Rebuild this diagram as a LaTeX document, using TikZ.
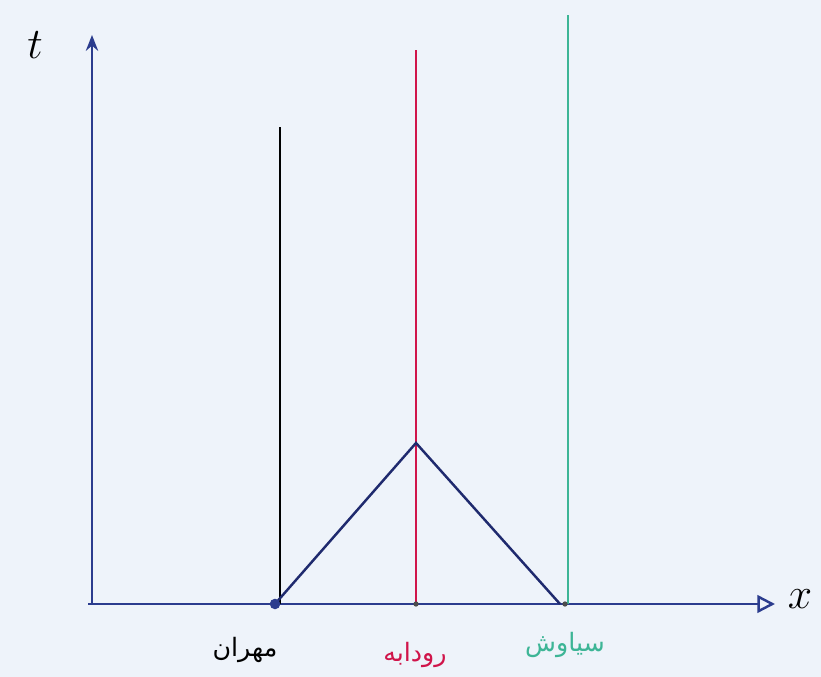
\documentclass[tikz,border=0pt]{standalone}
\usepackage{fontspec}
\newfontfamily\arabicfont[Script=Arabic]{DejaVu Sans}
\TeXXeTstate=1
\usetikzlibrary{arrows.meta}
\usetikzlibrary{positioning}
\definecolor{paper}{HTML}{EEF3FA}
\definecolor{axisblue}{HTML}{2B3C8E}
\definecolor{lightblue}{HTML}{1F2A6E}
\definecolor{rudared}{HTML}{D0144A}
\definecolor{siagreen}{HTML}{3DB596}
\tikzset{
    coordaxis/.style={draw=axisblue, line width=1.4pt},
    worldline/.style={line width=1.4pt},
    signal/.style={draw=lightblue, line width=1.4pt},
    persontext/.style={font=\arabicfont\Large}
}

\begin{document}
\begin{tikzpicture}
        % paper
        \fill[paper] (0,0) rectangle (16.42,13.54);
        \useasboundingbox (0,0) rectangle (16.42,13.54);

        % Axes
        \coordinate (O) at (1.84,1.46);
        \coordinate (xstart) at (1.76,1.46);
        \coordinate (xend) at (15.5,1.46);
        \coordinate (tend) at (1.84,12.84);
        \draw[coordaxis, -{Stealth[length=9pt,width=7pt]}] (O) -- (tend);
        \draw[coordaxis, -{Triangle[open,length=10pt,width=10pt]}] (xstart) -- (xend);
        \node (tlabel) at (0.7,12.64) {\Huge $t$};
        \node (xlabel) at (16.0,1.56) {\Huge $x$};

        % Events on the x axis
        \coordinate (mehran) at (5.5,1.46);
        \coordinate (rudabeh) at (8.32,1.46);
        \coordinate (siavash) at (11.2,1.46);
        \coordinate (meet) at (8.32,4.68);

        % World lines
        \draw[worldline, black] (5.6,1.46) -- (5.6,11.0);
        \draw[worldline, rudared] (rudabeh) -- (8.32,12.54);
        \draw[worldline, siagreen] (11.36,1.46) -- (11.36,13.24);

        % Light signals
        \draw[signal] (mehran) -- (meet) -- (siavash);
        \fill[axisblue] (mehran) circle (3pt);
        \fill[black!70] (rudabeh) circle (1.5pt);
        \fill[black!70] (11.3,1.46) circle (1.5pt);

        % Names
        \node (mehran_text) [persontext, black] at (4.9,0.54) {\beginR مهران\endR};
        \node (rudabeh_text) [persontext, rudared] at (8.3,0.44) {\beginR رودابه\endR};
        \node (siavash_text) [persontext, siagreen] at (11.3,0.64) {\beginR سیاوش\endR};
    \end{tikzpicture}
\end{document}
